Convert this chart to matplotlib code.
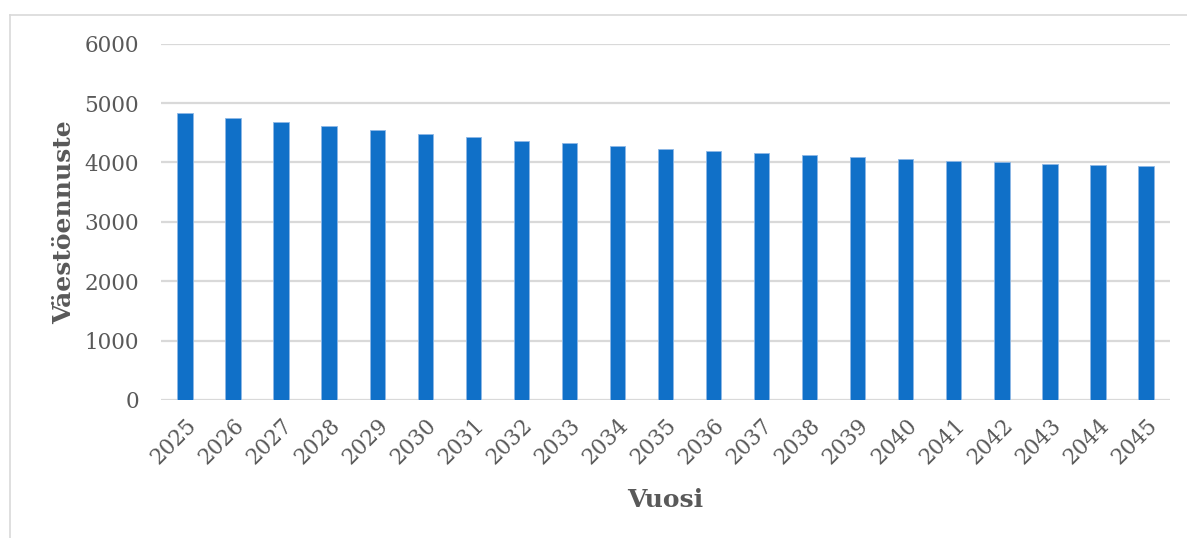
import matplotlib
matplotlib.use('Agg')
import matplotlib.pyplot as plt
from matplotlib.lines import Line2D

years = [str(y) for y in range(2025, 2046)]
population = [4825, 4745, 4676, 4613, 4540, 4483, 4421, 4364, 4324, 4273,
              4227, 4187, 4153, 4119, 4085, 4051, 4027, 4000, 3977, 3949, 3932]
yticks = [0, 1000, 2000, 3000, 4000, 5000, 6000]

text_col = '#595959'
grid_col = '#D9D9D9'
bar_col = '#1070C8'

plt.rcParams['font.family'] = ['DejaVu Serif']

fig = plt.figure(figsize=(11.87, 5.38), dpi=100)
ax = fig.add_axes([161 / 1187, 1 - 400 / 538, (1170 - 161) / 1187, (400 - 43.6) / 538])

x = list(range(len(years)))
ax.bar(x, population, width=0.32, color=bar_col, edgecolor='#8DB8E6',
       linewidth=0.6, zorder=3)

ax.set_xlim(-0.5, len(years) - 0.5)
ax.set_ylim(0, 6000)
ax.set_yticks(yticks)
ax.set_yticklabels([str(v) for v in yticks], fontsize=15.5, color=text_col)
ax.set_xticks(x)
ax.set_xticklabels(years, rotation=45, ha='right', rotation_mode='anchor',
                   fontsize=15.5, color=text_col)
ax.tick_params(axis='both', length=0)
ax.tick_params(axis='y', pad=16)
ax.tick_params(axis='x', pad=10)

ax.grid(axis='y', color=grid_col, linewidth=1.6, zorder=0)
for s in ax.spines.values():
    s.set_visible(False)

ax.set_ylabel('Väestöennuste', fontsize=18, fontweight='bold', color=text_col, labelpad=6)
ax.set_xlabel('Vuosi', fontsize=18, fontweight='bold', color=text_col, labelpad=14)

# outer chart frame (top and left edges visible)
fig.add_artist(Line2D([10 / 1187, 1.0], [1 - 15 / 538, 1 - 15 / 538],
                      color=grid_col, linewidth=1.2, transform=fig.transFigure))
fig.add_artist(Line2D([10 / 1187, 10 / 1187], [0, 1 - 15 / 538],
                      color=grid_col, linewidth=1.2, transform=fig.transFigure))

fig.savefig('out.png', dpi=100)
